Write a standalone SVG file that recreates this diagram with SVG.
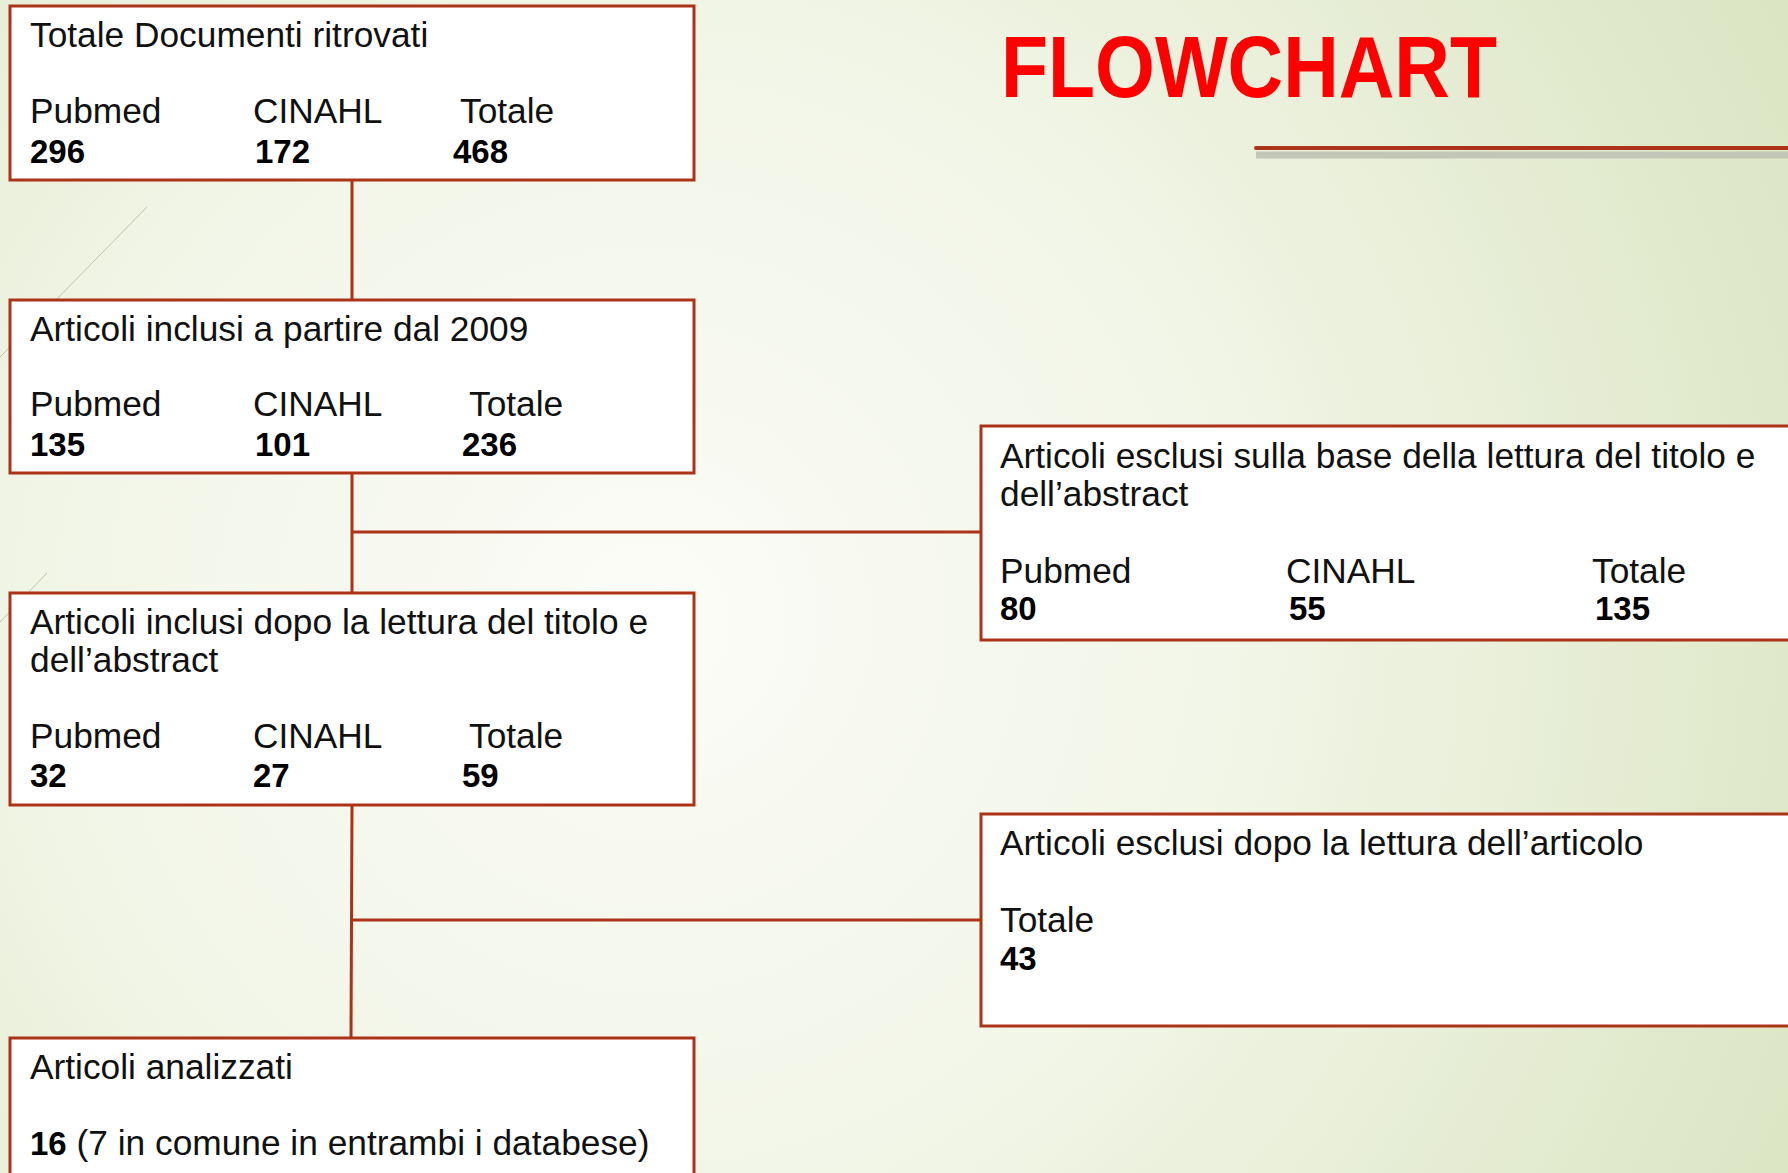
<svg xmlns="http://www.w3.org/2000/svg" width="1788" height="1173" viewBox="0 0 1788 1173">
<defs>
<radialGradient id="bg" cx="650" cy="620" r="1350" gradientUnits="userSpaceOnUse">
<stop offset="0" stop-color="#FBFCF7"/>
<stop offset="0.45" stop-color="#F1F5E6"/>
<stop offset="1" stop-color="#D9E3BF"/>
</radialGradient>
<style>
.box{fill:#FFFFFF;stroke:#AC3318;stroke-width:3}
.conn{stroke:#AC3318;stroke-width:3;fill:none}
.t{font-family:"Liberation Sans",Arial,sans-serif;font-size:35.3px;fill:#111111}
.n{font-family:"Liberation Sans",Arial,sans-serif;font-size:33px;font-weight:bold;fill:#000000}
.deco{stroke:#BCC6A6;stroke-width:1;fill:none}
</style>
</defs>
<rect x="0" y="0" width="1788" height="1173" fill="url(#bg)"/>
<line class="deco" x1="147" y1="207" x2="0" y2="357"/>
<line class="deco" x1="47" y1="573" x2="0" y2="622"/>
<g id="title">
<text x="1001" y="97" font-family="'Liberation Sans',Arial,sans-serif" font-size="88" font-weight="bold" fill="#FF0000" textLength="496" lengthAdjust="spacingAndGlyphs">FLOWCHART</text>
<line x1="1256" y1="155" x2="1788" y2="155" stroke="#C2C6B6" stroke-width="7"/>
<line x1="1256" y1="148" x2="1788" y2="148" stroke="#AC3318" stroke-width="4" stroke-linecap="round"/>
</g>
<g id="connectors">
<line class="conn" x1="352" y1="180" x2="352" y2="300"/>
<line class="conn" x1="352" y1="473" x2="352" y2="593"/>
<line class="conn" x1="352" y1="532" x2="981" y2="532"/>
<line class="conn" x1="352" y1="805" x2="351" y2="1038"/>
<line class="conn" x1="352" y1="920" x2="981" y2="920"/>
</g>
<g id="n1">
<rect class="box" x="10" y="6" width="684" height="174"/>
<text class="t" x="30" y="47">Totale Documenti ritrovati</text>
<text class="t" x="30" y="123">Pubmed</text>
<text class="t" x="253" y="123">CINAHL</text>
<text class="t" x="460" y="123">Totale</text>
<text class="n" x="30" y="163">296</text>
<text class="n" x="255" y="163">172</text>
<text class="n" x="453" y="163">468</text>
</g>
<g id="n2">
<rect class="box" x="10" y="300" width="684" height="173"/>
<text class="t" x="30" y="341">Articoli inclusi a partire dal 2009</text>
<text class="t" x="30" y="416">Pubmed</text>
<text class="t" x="253" y="416">CINAHL</text>
<text class="t" x="469" y="416">Totale</text>
<text class="n" x="30" y="456">135</text>
<text class="n" x="255" y="456">101</text>
<text class="n" x="462" y="456">236</text>
</g>
<g id="n3">
<rect class="box" x="10" y="593" width="684" height="212"/>
<text class="t" x="30" y="634">Articoli inclusi dopo la lettura del titolo e</text>
<text class="t" x="30" y="672">dell’abstract</text>
<text class="t" x="30" y="748">Pubmed</text>
<text class="t" x="253" y="748">CINAHL</text>
<text class="t" x="469" y="748">Totale</text>
<text class="n" x="30" y="787">32</text>
<text class="n" x="253" y="787">27</text>
<text class="n" x="462" y="787">59</text>
</g>
<g id="n4">
<rect class="box" x="10" y="1038" width="684" height="150"/>
<text class="t" x="30" y="1079">Articoli analizzati</text>
<text class="t" x="30" y="1155"><tspan class="n">16</tspan> (7 in comune in entrambi i databese)</text>
</g>
<g id="n5">
<rect class="box" x="981" y="426" width="820" height="214"/>
<text class="t" x="1000" y="468">Articoli esclusi sulla base della lettura del titolo e</text>
<text class="t" x="1000" y="506">dell’abstract</text>
<text class="t" x="1000" y="583">Pubmed</text>
<text class="t" x="1286" y="583">CINAHL</text>
<text class="t" x="1592" y="583">Totale</text>
<text class="n" x="1000" y="620">80</text>
<text class="n" x="1289" y="620">55</text>
<text class="n" x="1595" y="620">135</text>
</g>
<g id="n6">
<rect class="box" x="981" y="814" width="820" height="212"/>
<text class="t" x="1000" y="855">Articoli esclusi dopo la lettura dell’articolo</text>
<text class="t" x="1000" y="932">Totale</text>
<text class="n" x="1000" y="970">43</text>
</g>
</svg>
